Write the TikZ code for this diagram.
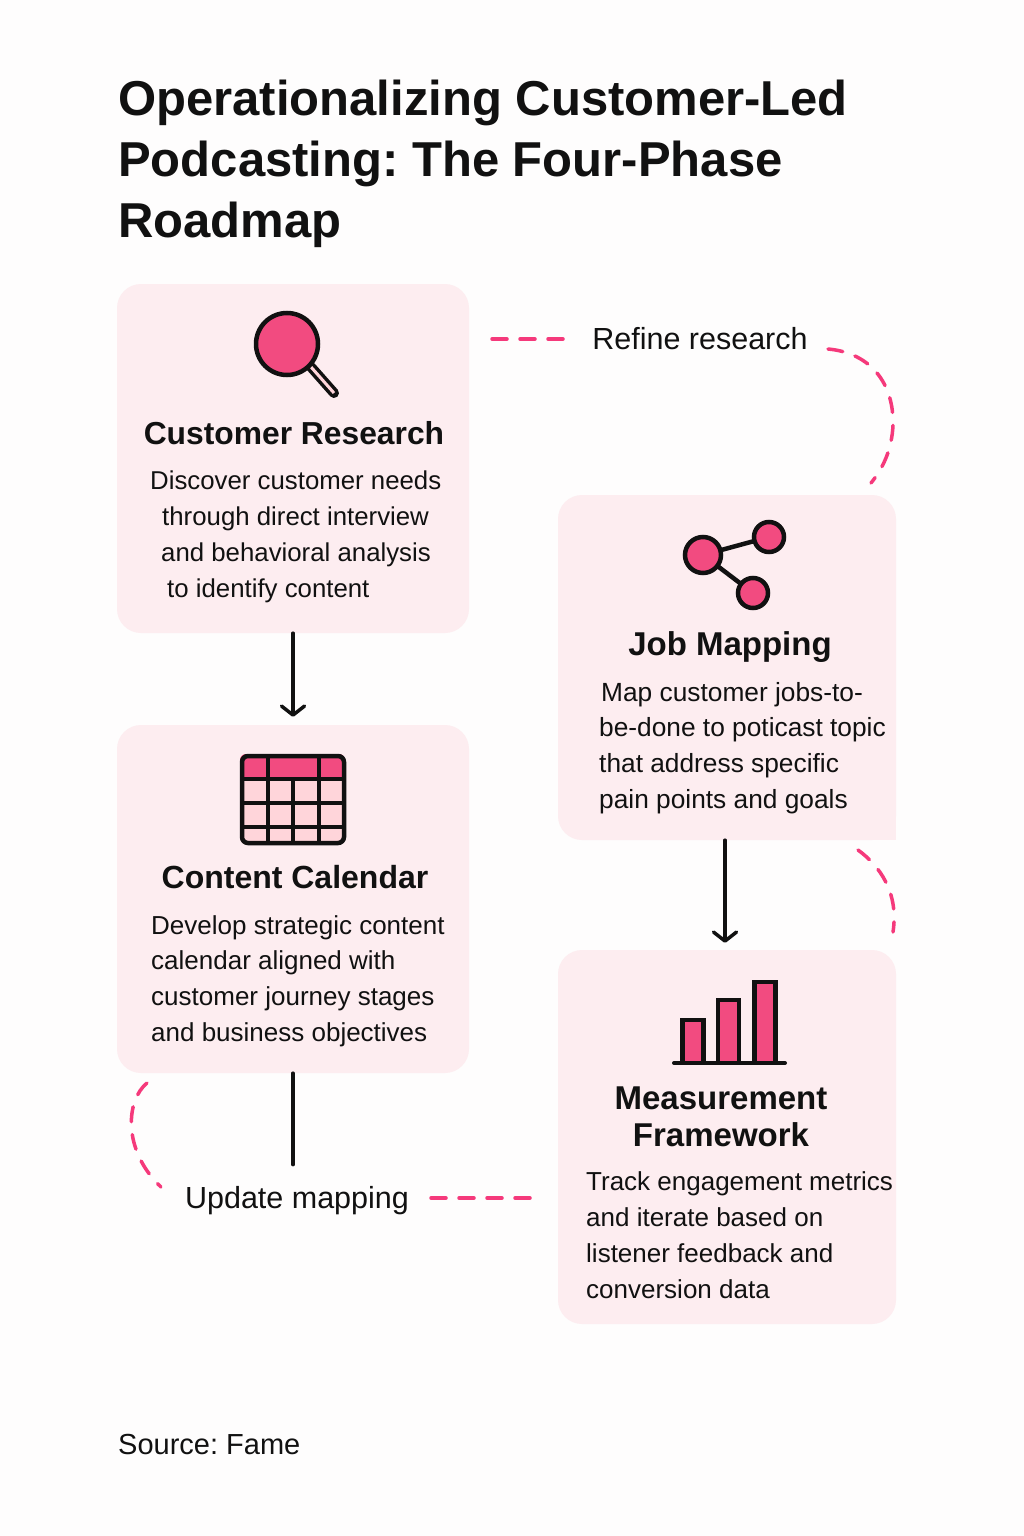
\documentclass[tikz,border=0pt]{standalone}
\usepackage{fontspec}
\setmainfont{Liberation Sans}
\frenchspacing
\usetikzlibrary{arrows.meta}
\definecolor{pagewhite}{HTML}{FEFDFD}
\definecolor{cardpink}{HTML}{FDEDF0}
\definecolor{iconpink}{HTML}{F24B80}
\definecolor{palepink}{HTML}{FFD5DA}
\definecolor{dashpink}{HTML}{F5397B}
\definecolor{inkblack}{HTML}{111111}
\tikzset{
	card/.style={fill=cardpink,rounded corners=24pt,inner sep=0pt},
	cardtitle/.style={font=\fontsize{33}{37}\selectfont\bfseries,align=center,inner sep=0pt},
	carddesc/.style={font=\fontsize{26}{35.8}\selectfont,align=left,anchor=west,inner sep=0pt},
	looplabel/.style={font=\fontsize{30.5}{34}\selectfont,inner sep=0pt},
	flow/.style={line width=3.5pt,line cap=round,-{Straight Barb[length=9pt,width=23pt,line width=3.5pt,round]}},
	loopdash/.style={line width=3.5pt,line cap=round,dashpink,dash pattern=on 15pt off 13pt},
	icon/.style={draw=inkblack,line width=4.5pt,fill=iconpink},
}
\begin{document}
\begin{tikzpicture}[x=1pt,y=-1pt,inkblack]
	\fill[pagewhite] (0,0) rectangle (1024,1536);
	\useasboundingbox (0,0) rectangle (1024,1536);

	\node[anchor=west,align=left,inner sep=0pt,font=\fontsize{49}{61}\selectfont\bfseries] (title) at (118,164)
		{Operationalizing Customer-Led\\Podcasting: The Four-Phase\\Roadmap};

	% cards
	\node[card,minimum width=352pt,minimum height=349pt] (research) at (293,458.5) {};
	\node[card,minimum width=352pt,minimum height=348pt] (calendar) at (293,899) {};
	\node[card,minimum width=338pt,minimum height=345pt] (jobs) at (727,667.5) {};
	\node[card,minimum width=338pt,minimum height=374pt] (measure) at (727,1137) {};
	\fill[cardpink] (860,810) rectangle (jobs.south east);

	% magnifier
	\draw[inkblack,line width=10pt,line cap=round] (311,367) -- (334,393);
	\draw[palepink,line width=3pt] (311,367) -- (334,393);
	\node[icon,circle,minimum size=62pt,inner sep=0pt] (lens) at (287,344) {};

	% calendar
	\fill[palepink,rounded corners=6pt] (240,754) rectangle (345,844);
	\fill[iconpink,rounded corners=6pt] (240,754) rectangle (345,790);
	\fill[palepink] (240,779) rectangle (345,800);
	\draw[line width=4pt] (240,779) -- (345,779) (240,803) -- (345,803) (240,827) -- (345,827);
	\draw[line width=4pt] (267.5,754) -- (267.5,844) (318.5,754) -- (318.5,844) (293,779) -- (293,844);
	\draw[line width=4.5pt,rounded corners=6pt] (242,756) rectangle (344,843);

	% share icon
	\coordinate (hub) at (703,555);
	\coordinate (leafa) at (769,537);
	\coordinate (leafb) at (753,593);
	\draw[line width=4.5pt] (hub) -- (leafa) (hub) -- (leafb);
	\node[icon,circle,minimum size=36pt,inner sep=0pt] (hubdot) at (hub) {};
	\node[icon,circle,minimum size=30pt,inner sep=0pt] (leafadot) at (leafa) {};
	\node[icon,circle,minimum size=30pt,inner sep=0pt] (leafbdot) at (leafb) {};

	% bar chart
	\draw[icon] (682.5,1063) rectangle (703.5,1020);
	\draw[icon] (718,1063) rectangle (739,1000);
	\draw[icon] (754.5,1063) rectangle (775.5,982);
	\draw[line width=4pt,line cap=round] (674,1063) -- (785,1063);

	% card texts
	\node[cardtitle,font=\fontsize{31.8}{37}\selectfont\bfseries] (researchtitle) at (294,433) {Customer Research};
	\node[carddesc,font=\fontsize{25.8}{35.8}\selectfont] (researchdesc) at (150,537) {Discover customer needs\\\hspace*{12pt}through direct interview\\\hspace*{11pt}and behavioral analysis\\\hspace*{17pt}to identify content};
	\node[cardtitle,font=\fontsize{32}{37}\selectfont\bfseries] (calendartitle) at (295,877) {Content Calendar};
	\node[carddesc] (calendardesc) at (151,981) {Develop strategic content\\calendar aligned with\\customer journey stages\\and business objectives};
	\node[cardtitle] (jobstitle) at (730,647) {Job Mapping};
	\node[carddesc,font=\fontsize{26.3}{35.8}\selectfont] (jobsdesc) at (599,748) {\hspace*{2pt}Map customer jobs-to-\\be-done to poticast topic\\that address specific\\pain points and goals};
	\node[cardtitle] (measuretitle) at (721,1117) {Measurement\\Framework};
	\node[carddesc] (measuredesc) at (586,1235) {Track engagement metrics\\and iterate based on\\listener feedback and\\conversion data};

	\node[looplabel] (refine) at (700,339) {Refine research};
	\node[looplabel] (update) at (297,1201) {Update mapping};
	\node[anchor=west,inner sep=0pt,font=\fontsize{29}{34}\selectfont] (source) at (118,1444) {Source: Fame};

	% solid connectors
	\draw[flow] (research.south) -- ([yshift=8pt]calendar.north);
	\draw[flow] ([xshift=-2pt]jobs.south) -- ([xshift=-2pt,yshift=7pt]measure.north);
	\draw[line width=3.5pt,line cap=round] (calendar.south) -- ([yshift=22pt]update.north -| calendar.south);

	% feedback loops
	\draw[loopdash,shorten >=19pt] (refine.west -| 563,0) -- (refine.west -| research.east);
	\draw[loopdash] (828,349) .. controls (872,353) and (894,385) .. (893,425) .. controls (892,448) and (884,467) .. (871,483);
	\draw[loopdash] (858,850) .. controls (880,866) and (899,893) .. (893,932);
	\draw[loopdash] (147,1083) .. controls (126,1100) and (122,1150) .. (161,1187);
	\draw[loopdash,shorten >=25pt] (431,1198) -- (measure.west |- 0,1198);
\end{tikzpicture}
\end{document}
